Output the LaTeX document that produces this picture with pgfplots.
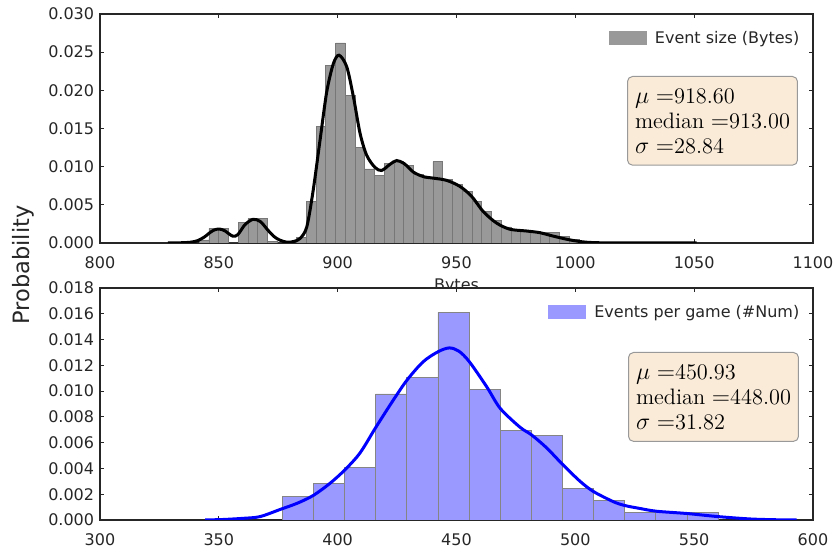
\documentclass[border=0pt]{standalone}
\usepackage{fontspec}
\usepackage{pgfplots}
\pgfplotsset{compat=1.18}
\newfontfamily\dejavu{DejaVu Sans}
\definecolor{histgray}{HTML}{999999}
\definecolor{edgegray}{HTML}{777777}
\definecolor{histblue}{HTML}{9999FF}
\definecolor{edgeblue}{HTML}{858585}
\definecolor{boxfill}{HTML}{FAEBD8}
\definecolor{boxedge}{HTML}{999999}
\definecolor{axcol}{HTML}{262626}

\pgfplotstableread{
x y
841.76 0.0004
845.86 0.0019
849.96 0.0019
854.05 0
858.15 0.0027
862.25 0.0032
866.35 0.0032
870.45 0.00026
874.54 0
878.64 0
882.74 0.00075
886.84 0.0054
890.94 0.0153
895.03 0.0233
899.13 0.0262
903.23 0.0193
907.33 0.0125
911.43 0.0097
915.52 0.0089
919.62 0.0104
923.72 0.0107
927.82 0.0101
931.92 0.0090
936.01 0.0085
940.11 0.01065
944.21 0.0083
948.31 0.0077
952.41 0.0067
956.50 0.0054
960.60 0.0041
964.70 0.0030
968.80 0.0021
972.90 0.0016
976.99 0.0015
981.09 0.0015
985.19 0.0014
989.29 0.0014
993.39 0.00083
997.48 0.0005
1001.58 0.0002
1005.68 0.0001
1009.78 0.0001
1013.88 0.00004
1017.97 0
1022.07 0
1026.17 0
1030.27 0
1034.37 0
1038.46 0
1042.56 0.00004
1046.66 0
}\sizehist

\pgfplotstableread{
x y
828.6 0
834 0.00003
838 0.0001
841 0.0003
844 0.0008
846 0.0013
848 0.0017
850.2 0.00183
852.5 0.0016
855.8 0.0009
858 0.0011
861 0.0024
864.4 0.0031
867.5 0.0028
870.6 0.0017
873 0.0009
875.5 0.0004
878.6 0.0001
881.5 0.0002
884.2 0.0006
887 0.0021
889.7 0.0069
892.6 0.0135
895.4 0.0198
898.2 0.0235
900.6 0.0246
903.8 0.0231
906.6 0.0192
909.4 0.0144
912.2 0.0115
915.7 0.0099
918.5 0.0095
922.0 0.0103
924.8 0.0108
928 0.0104
931.8 0.0093
936.0 0.0087
940.2 0.0085
945.9 0.0082
951.5 0.0074
956.4 0.0061
961.3 0.0041
966.9 0.0026
972.5 0.0018
979.5 0.00157
985.1 0.00135
990.7 0.0009
997.8 0.0004
1004.8 0.0001
1015.8 0.00001
1051 0
}\sizekde

\pgfplotstableread{
x y
376.7 0.00184
389.8 0.00282
402.9 0.00406
416.0 0.00978
429.1 0.01107
442.2 0.01611
455.3 0.01014
468.4 0.00693
481.5 0.00659
494.6 0.00246
507.7 0.00155
520.8 0.00057
533.9 0.00057
547.0 0.00057
560.1 0
}\gamehist

\pgfplotstableread{
x y
344.2 0
352 0.00004
360.3 0.00013
367.3 0.00026
376 0.00083
383 0.0013
389.7 0.0019
396.8 0.00285
403.1 0.0039
409.4 0.0052
416.1 0.0072
423.4 0.0093
429.2 0.01086
436.0 0.01228
442.3 0.01306
447.0 0.01335
451 0.0131
455.4 0.01228
462.7 0.01034
468.4 0.00866
476.7 0.0072
481.6 0.0066
487.9 0.0056
494.7 0.0043
502.0 0.0030
507.7 0.0022
516.0 0.00142
520.9 0.00112
527 0.0009
534.1 0.00068
547.1 0.0005
560.2 0.00026
573.5 0.00008
584 0.00002
593.1 0
}\gamekde

\pgfplotsset{
  mystyle/.style={
    scale only axis,
    width=427.8pt,
    axis line style={axcol, line width=1pt},
    tick style={axcol, line width=0.6pt},
    major tick length=2.4pt,
    tick pos=both,
    tick align=inside,
    /pgf/number format/assume math mode=true,
    /pgf/number format/1000 sep={},
    tick label style={font=\dejavu\fontsize{9.6}{11}\selectfont, text=axcol},
    xticklabel style={yshift=-4.5pt},
    scaled y ticks=false,
    yticklabel style={/pgf/number format/fixed, /pgf/number format/fixed zerofill, /pgf/number format/precision=3},
    legend style={draw=none, fill=none, at={(rel axis cs:1,1)}, anchor=north east,
      xshift=-3pt, yshift=-6pt, font=\dejavu\fontsize{9.6}{11}\selectfont, text=axcol,
      column sep=3pt},
    legend cell align=left,
  },
}
\tikzset{
  statbox/.style={draw=boxedge, fill=boxfill, rounded corners=3pt, line width=0.6pt,
    align=left, inner xsep=4.5pt, inner ysep=7pt, anchor=north east,
    font=\fontsize{13.4}{15}\selectfont},
}

\begin{document}
\begin{tikzpicture}
\path[use as bounding box] (-60pt,-184.8pt) rectangle (441.6pt,145.8pt);
\begin{axis}[mystyle,
  at={(0pt,0pt)}, anchor=south west,
  height=137.4pt,
  xmin=800, xmax=1100, ymin=0, ymax=0.030,
  xtick={800,850,900,950,1000,1050,1100},
  ytick={0,0.005,0.010,0.015,0.020,0.025,0.030},
  xlabel={Bytes},
  xlabel style={font=\dejavu\fontsize{9.6}{11}\selectfont, text=axcol, at={(axis description cs:0.5,0)}, anchor=base, yshift=-28.8pt},
]
\addplot[ybar interval, fill=histgray, draw=edgegray, line width=0.5pt,
  legend image code/.code={\fill[histgray] (0pt,-3.9pt) rectangle (22.2pt,3.9pt);}]
  table[x=x,y=y] {\sizehist};
\addlegendentry{Event size (Bytes)}
\addplot[black, line width=1.8pt, smooth, tension=0.5, forget plot] table[x=x,y=y] {\sizekde};
\node[statbox] at (rel axis cs:1,1) [xshift=-9pt, yshift=-37.2pt]
  {$\mu=$918.60\\$\mathrm{median}=$913.00\\$\sigma=$28.84};
\end{axis}

\node[rotate=90, font=\dejavu\fontsize{13.5}{15}\selectfont, text=axcol] at (-46.2pt,-13.2pt) {Probability};

\begin{axis}[mystyle,
  at={(0pt,-27pt)}, anchor=north west,
  height=139.2pt,
  axis background/.style={fill=white},
  xmin=300, xmax=600, ymin=0, ymax=0.018,
  xtick={300,350,400,450,500,550,600},
  ytick={0,0.002,0.004,0.006,0.008,0.010,0.012,0.014,0.016,0.018},
]
\addplot[ybar interval, fill=histblue, draw=edgeblue, line width=0.5pt,
  legend image code/.code={\fill[histblue] (0pt,-3.9pt) rectangle (22.2pt,3.9pt);}]
  table[x=x,y=y] {\gamehist};
\addlegendentry{Events per game (\#Num)}
\addplot[blue, line width=1.8pt, smooth, tension=0.5, forget plot] table[x=x,y=y] {\gamekde};
\node[statbox] at (rel axis cs:1,1) [xshift=-8.4pt, yshift=-38.4pt]
  {$\mu=$450.93\\$\mathrm{median}=$448.00\\$\sigma=$31.82};
\end{axis}
\end{tikzpicture}
\end{document}
